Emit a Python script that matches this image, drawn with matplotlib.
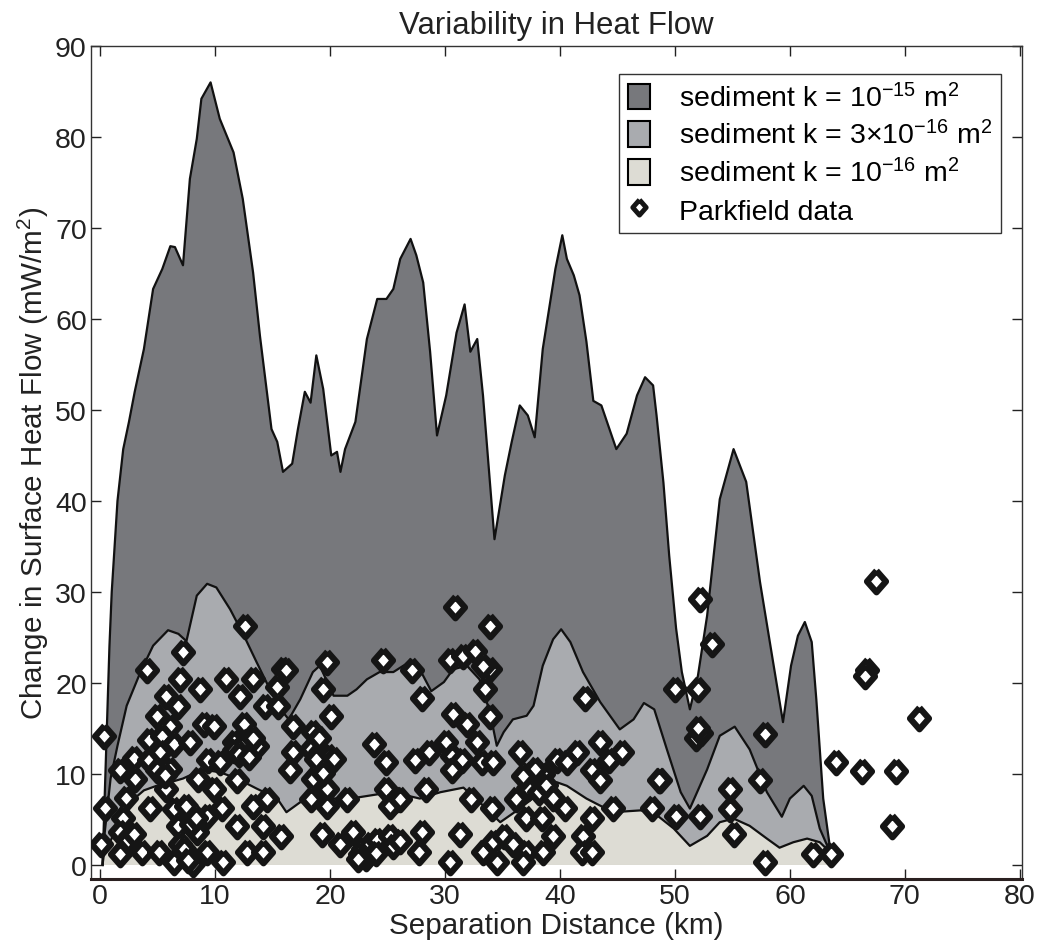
import matplotlib
matplotlib.use('Agg')
import matplotlib.pyplot as plt
from matplotlib.patches import Patch
from matplotlib.lines import Line2D
from matplotlib.markers import MarkerStyle

plt.rcParams['font.family'] = ['Liberation Sans', 'DejaVu Sans']
plt.rcParams['mathtext.default'] = 'regular'

# ---- data ----
dark_x = [0.2, 0.5, 0.8, 1.0, 1.5, 2.0, 2.5, 3.0, 3.8, 4.6, 5.4, 6.1, 6.5, 7.2, 7.8, 8.4, 8.8, 9.6,
          10.4, 11.6, 12.4, 13.3, 13.9, 14.9, 15.4, 15.9, 16.7, 17.2, 17.8, 18.3, 18.8, 19.4, 20.1,
          20.6, 20.9, 21.3, 22.2, 23.2, 24.1, 24.9, 25.5, 26.1, 27.0, 27.5, 28.1, 28.7, 29.3, 30.1,
          31.0, 31.7, 32.2, 32.8, 33.3, 33.9, 34.3, 35.2, 35.8, 36.5, 37.2, 37.8, 38.5, 39.6, 40.2,
          40.6, 41.2, 41.7, 42.3, 42.9, 43.6, 44.9, 45.8, 46.7, 47.4, 48.1, 48.4, 49.0, 49.5, 50.1,
          50.6, 51.3, 52.0, 52.8, 53.9, 55.1, 56.2, 57.4, 58.5, 59.4, 60.1, 60.7, 61.3, 61.9, 62.3,
          62.9, 63.5, 63.6]
dark_y = [0.0, 12.0, 24.0, 30.0, 40.0, 45.7, 48.7, 52.0, 56.7, 63.3, 65.5, 68.0, 67.9, 65.9, 75.4,
          79.8, 84.2, 86.0, 82.0, 78.3, 73.2, 65.1, 58.1, 47.9, 46.5, 43.2, 44.1, 47.9, 52.0, 50.8,
          56.0, 52.3, 45.0, 45.4, 43.2, 45.7, 48.7, 57.8, 62.2, 62.2, 63.3, 66.6, 68.8, 67.0, 64.0,
          56.4, 47.2, 51.6, 58.5, 61.6, 56.4, 57.8, 51.6, 42.1, 35.8, 42.8, 46.5, 50.5, 49.4, 47.0,
          56.7, 65.5, 69.2, 66.6, 64.8, 62.6, 57.5, 51.0, 50.5, 45.7, 47.4, 51.6, 53.6, 52.7, 49.4,
          42.0, 34.0, 26.0, 21.2, 17.1, 20.8, 27.4, 40.2, 45.7, 42.1, 31.1, 22.6, 15.7, 21.9, 25.2,
          26.7, 24.5, 18.2, 7.3, 1.8, 0.0]

mid_x = [0.2, 0.3, 0.9, 1.5, 2.3, 3.5, 4.6, 5.9, 6.8, 7.5, 8.4, 9.3, 10.1, 11.3, 12.5, 13.6, 14.8,
         15.7, 16.4, 17.4, 18.5, 19.1, 20.3, 21.5, 22.3, 23.2, 24.3, 25.5, 26.5, 27.0, 27.8, 28.8,
         29.9, 30.7, 31.9, 33.0, 33.9, 34.5, 35.1, 35.9, 37.1, 37.7, 38.5, 39.4, 40.1, 40.9, 42.0,
         43.5, 45.2, 46.4, 47.3, 48.2, 49.3, 50.5, 51.3, 52.8, 53.9, 55.2, 56.5, 58.0, 59.3, 60.0,
         60.6, 61.2, 61.9, 62.6, 63.5, 63.6]
mid_y = [0.0, 2.5, 9.5, 13.1, 17.5, 21.2, 24.1, 25.8, 25.4, 24.6, 29.6, 30.9, 30.5, 28.1, 25.2,
         22.3, 19.2, 17.1, 16.0, 18.2, 21.2, 21.9, 18.6, 18.6, 19.3, 20.4, 21.2, 21.2, 22.0, 22.6,
         21.5, 19.1, 20.1, 21.5, 21.9, 20.4, 16.8, 13.1, 14.6, 16.0, 16.4, 17.5, 21.9, 24.8, 25.9,
         24.5, 21.2, 17.9, 14.9, 16.0, 17.8, 17.1, 12.7, 8.0, 6.2, 10.5, 14.2, 15.2, 12.7, 8.0,
         5.3, 7.3, 8.0, 8.7, 7.6, 4.0, 1.4, 0.0]

low_x = [0.2, 0.3, 1.5, 2.6, 3.8, 4.9, 6.1, 7.2, 8.4, 9.3, 10.4, 11.9, 13.6, 15.4, 16.2, 17.4, 18.5,
         20.3, 22.3, 24.3, 26.1, 27.8, 29.6, 31.6, 33.0, 34.8, 36.5, 38.3, 39.7, 40.6, 42.3, 44.6,
         47.0, 48.1, 49.9, 51.3, 52.8, 53.9, 55.1, 56.5, 58.0, 59.1, 60.3, 61.5, 62.6, 63.5, 63.6]
low_y = [0.0, 1.0, 4.3, 6.9, 8.2, 8.7, 9.1, 9.5, 10.2, 10.4, 10.2, 9.5, 8.4, 7.3, 5.8, 6.9, 7.1,
         7.3, 7.4, 7.8, 7.8, 7.3, 8.0, 8.5, 6.9, 4.7, 6.2, 8.0, 9.1, 8.7, 7.3, 5.8, 6.0, 5.8, 4.0,
         2.1, 3.2, 4.7, 5.1, 4.3, 2.9, 1.9, 2.5, 2.9, 2.5, 1.4, 0.0]

pk_x = [12.6, 7.2, 4.1, 6.9, 8.7, 10.9, 13.3, 15.9, 5.7, 6.8, 12.2, 14.3, 15.4, 4.9, 6.1, 9.0, 9.9,
        12.5, 4.2, 5.4, 6.4, 7.8, 11.6, 12.8, 13.6, 2.9, 4.2, 5.2, 6.1, 1.7, 3.0, 9.4, 10.4, 11.6,
        11.9, 8.5, 9.9, 2.2, 0.4, 5.7, 4.3, 6.4, 7.5, 9.3, 10.6, 13.3, 14.5, 2.0, 1.7, 2.6, 6.8,
        8.4, 11.9, 14.2, 15.7, 0.1, 1.7, 3.6, 5.1, 6.4, 7.7, 8.1, 9.3, 10.7, 12.8, 14.2, 0.3,
        2.4, 2.9, 12.1, 12.9, 13.3, 4.9, 5.6, 7.9, 8.3, 6.9, 7.3, 7.6,
        16.2, 19.7, 24.6, 15.5, 19.4, 20.1, 16.8, 18.5, 16.8, 16.5, 18.3, 19.1, 19.9, 18.8, 23.8,
        24.9, 18.5, 19.7, 21.5, 18.3, 19.7, 24.9, 25.8, 25.2, 19.3, 20.9, 22.0, 22.9, 23.5, 22.6,
        24.1, 25.2, 25.5, 19.0, 20.3, 19.4, 23.1, 22.4, 24.0,
        27.1, 30.9, 33.9, 30.4, 31.6, 32.6, 33.9, 33.3, 33.5, 28.0, 30.7, 31.9, 33.9, 30.1, 32.8,
        27.4, 28.6, 30.6, 31.5, 30.6, 33.2, 34.2, 36.5, 39.7, 41.5, 40.6, 42.2, 43.5, 42.8, 44.3,
        45.4, 43.5, 37.0, 37.5, 38.0, 38.5, 37.2, 38.2, 38.8, 37.8, 36.8, 28.3, 32.3, 34.1, 36.2,
        37.0, 38.4, 39.4, 40.4, 42.8, 44.6, 48.0, 48.7, 50.1, 52.2, 28.0, 27.7, 31.3, 30.4, 33.3,
        34.2, 35.1, 34.5, 35.9, 37.0, 36.8, 38.5, 39.4, 42.0, 41.9, 42.8, 26.1, 26.1,
        67.5, 66.7, 66.5, 71.2, 64.0, 66.3, 69.2, 68.9, 63.6, 62.0, 57.8, 55.1, 54.8, 54.8, 57.4,
        57.8, 52.2, 53.2, 52.0, 50.0, 51.8, 52.3, 52.0, 48.6]
pk_y = [26.3, 23.4, 21.4, 20.4, 19.3, 20.4, 20.4, 21.5, 18.6, 17.5, 18.6, 17.5, 19.6, 16.4, 15.3,
        15.5, 15.3, 15.5, 13.7, 14.2, 13.3, 13.5, 13.5, 13.6, 13.1, 11.8, 11.5, 12.4, 10.5, 10.4,
        9.5, 11.5, 11.3, 12.6, 9.3, 9.5, 8.4, 7.4, 6.3, 8.4, 6.3, 6.2, 6.5, 5.4, 6.3, 6.5, 7.3,
        5.2, 3.6, 3.2, 4.3, 3.6, 4.3, 4.3, 3.2, 2.3, 1.2, 1.4, 1.4, 0.3, 1.0, 0.1, 1.4, 0.3, 1.4,
        1.4, 14.2, 2.8, 3.4, 12.2, 11.9, 14.0, 10.4, 9.9, 4.5, 5.2, 2.3, 1.8, 0.5,
        21.4, 22.3, 22.5, 17.5, 19.3, 16.4, 15.3, 14.6, 12.4, 10.4, 12.7, 12.4, 12.0, 11.6, 13.3,
        11.3, 9.5, 8.4, 7.3, 7.3, 6.5, 8.4, 7.3, 6.5, 3.4, 2.3, 3.6, 1.8, 2.3, 1.2, 2.7, 3.2, 2.1,
        14.0, 11.6, 10.1, 0.8, 0.7, 1.3,
        21.4, 28.3, 26.3, 22.5, 23.0, 23.5, 21.5, 21.9, 19.3, 18.4, 16.6, 15.5, 16.4, 13.5, 13.5,
        11.5, 12.4, 12.0, 11.5, 10.4, 11.3, 11.3, 12.4, 11.5, 12.4, 11.3, 18.4, 13.5, 10.4, 11.5,
        12.4, 9.3, 10.0, 9.5, 9.0, 10.0, 8.5, 8.0, 8.8, 10.5, 9.8, 8.4, 7.3, 6.3, 7.3, 5.2, 5.2,
        7.4, 6.3, 5.2, 6.3, 6.3, 9.3, 5.4, 5.4, 3.6, 1.4, 3.4, 0.3, 1.4, 2.5, 3.2, 0.3, 2.3, 1.4,
        0.3, 1.4, 3.2, 3.2, 1.4, 1.4, 7.3, 2.6,
        31.2, 21.4, 20.8, 16.2, 11.3, 10.3, 10.3, 4.3, 1.2, 1.2, 0.3, 3.4, 6.2, 8.3, 9.3, 14.4,
        29.2, 24.3, 19.3, 19.3, 14.0, 14.5, 15.0, 9.3]

x_ticks = [0, 10, 20, 30, 40, 50, 60, 70, 80]
y_ticks = [0, 10, 20, 30, 40, 50, 60, 70, 80, 90]
labels = ['sediment k = 10$^{-15}$ m$^2$', 'sediment k = 3\u00d710$^{-16}$ m$^2$',
          'sediment k = 10$^{-16}$ m$^2$', 'Parkfield data']

c_dark = '#77787c'
c_mid = '#a9abaf'
c_low = '#dddcd4'

diamond = MarkerStyle([(0, 1), (0.88, 0), (0, -1), (-0.88, 0), (0, 1)], joinstyle='miter')

fig = plt.figure(figsize=(10.5, 9.53), dpi=100)
ax = fig.add_axes([0.0867, 0.0766, 0.8867, 0.8741])

for xs, ys, c in [(dark_x, dark_y, c_dark), (mid_x, mid_y, c_mid), (low_x, low_y, c_low)]:
    ax.fill_between(xs, 0, ys, facecolor=c, edgecolor='none', zorder=1)
    ax.plot(xs, ys, color='#111111', lw=1.6, zorder=2)

ax.plot(pk_x, pk_y, ls='none', marker=diamond, ms=15.5, mfc='white', mec='#151515',
        mew=4.5, zorder=3)

ax.set_xlim(-0.8, 80.2)
ax.set_ylim(-1.54, 90)
ax.set_xticks(x_ticks)
ax.set_yticks(y_ticks)
ax.tick_params(direction='in', length=7, width=1, top=True, right=True, labelsize=20.5,
               colors='#222222', pad=3)
for s in ax.spines.values():
    s.set_linewidth(1.0)
    s.set_color('#333333')
ax.spines['bottom'].set_linewidth(2.2)
ax.spines['bottom'].set_color('#2a2020')

ax.set_title('Variability in Heat Flow', fontsize=22.4, pad=9, color='#222222')
ax.set_xlabel('Separation Distance (km)', fontsize=21.3, labelpad=1, color='#222222')
ax.set_ylabel('Change in Surface Heat Flow (mW/m$^2$)', fontsize=21.3, labelpad=3,
              color='#222222')

handles = [Patch(facecolor=c_dark, edgecolor='k', lw=1.5),
           Patch(facecolor=c_mid, edgecolor='k', lw=1.5),
           Patch(facecolor=c_low, edgecolor='k', lw=1.5),
           Line2D([], [], ls='none', marker=diamond, ms=11, mfc='white', mec='#151515', mew=3.5)]
leg = ax.legend(handles, labels, loc='upper right', bbox_to_anchor=(0.977, 0.966),
                fontsize=20.5, frameon=True, fancybox=False, framealpha=1, edgecolor='#333333',
                handlelength=0.8, handleheight=1.0, handletextpad=1.0, labelspacing=0.3,
                borderpad=0.3, borderaxespad=0)
leg.get_frame().set_linewidth(1.0)

fig.savefig('out.png', dpi=100)
